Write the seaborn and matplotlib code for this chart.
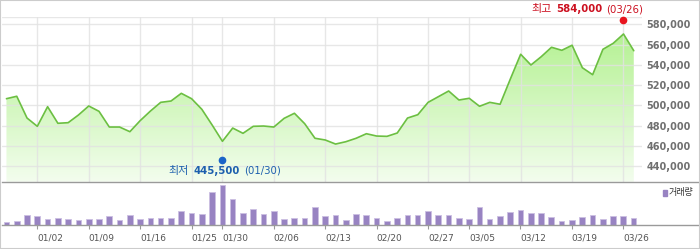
import numpy as np
import pandas as pd
import matplotlib
matplotlib.use("Agg")
import matplotlib.pyplot as plt
from matplotlib.colors import LinearSegmentedColormap
from matplotlib.offsetbox import TextArea, HPacker, AnnotationBbox
from matplotlib.patches import Rectangle
import seaborn as sns

# ---- data ----
price = [506500, 508900, 487400, 479200, 498600, 482200, 482800, 490400, 499300, 494000,
         478500, 478500, 473900, 484800, 494300, 502900, 504200, 511800, 506500, 496000,
         480500, 464400, 477500, 472300, 479200, 479500, 478500, 487100, 492100, 481800,
         467400, 465700, 461700, 464000, 467400, 471900, 469600, 469300, 472600, 487400,
         490700, 502900, 508500, 514100, 505200, 506900, 499000, 502900, 501000, 526000,
         550400, 539800, 548000, 557300, 554300, 559300, 537100, 530200, 555300, 561200,
         570400, 553900]
volume = [10, 12, 29, 27, 19, 21, 18, 15, 18, 19,
          27, 15, 29, 18, 20, 21, 21, 42, 36, 34,
          98, 120, 77, 37, 47, 34, 41, 18, 22, 20,
          54, 26, 31, 16, 32, 29, 22, 13, 21, 30,
          30, 43, 30, 30, 20, 19, 54, 19, 27, 40,
          45, 36, 36, 23, 11, 16, 23, 30, 18, 26,
          27, 21]
tick_pos = [3, 8, 13, 18, 21, 26, 31, 36, 41, 45, 50, 55, 60]
tick_labels = ["01/02", "01/09", "01/16", "01/25", "01/30", "02/06", "02/13",
               "02/20", "02/27", "03/05", "03/12", "03/19", "03/26"]
y_ticks = [440000, 460000, 480000, 500000, 520000, 540000, 560000, 580000]
high_idx, high_val, high_date = 60, 584000, "03/26"
low_idx, low_val, low_date = 21, 445500, "01/30"

idx = np.arange(len(price))
df = pd.DataFrame({"i": idx, "price": price, "volume": volume})

sns.set_theme(style="white")
plt.rcParams["font.family"] = ["DejaVu Sans", "Noto Sans CJK KR"]

W, H = 700, 249
fig = plt.figure(figsize=(W / 100, H / 100), dpi=100)

def fx(px):
    return px / W

def fy(py):
    return 1 - py / H

# price axes
ax = fig.add_axes([fx(2), fy(181.7), fx(640), (181.7 - 17.3) / H])
# volume axes
axv = fig.add_axes([fx(2), fy(225), fx(696), (225 - 181.7) / H])

ymin, ymax = 424500, 586900
xmin, xmax = -0.434, 61.8

# gradient fill under line
poly = ax.fill_between(idx, price, ymin, color="none", lw=0)
cmap = LinearSegmentedColormap.from_list("g", ["#f3fdee", "#aef089"])
grad = np.linspace(0, 1, 256).reshape(-1, 1)
im = ax.imshow(grad, extent=[xmin, xmax, ymin, ymax], origin="lower", aspect="auto",
               cmap=cmap, zorder=1)
im.set_clip_path(poly.get_paths()[0], transform=ax.transData)

sns.lineplot(data=df, x="i", y="price", ax=ax, color="#6cbf42", lw=1.2, zorder=4)

ax.set_xlim(xmin, xmax)
ax.set_ylim(ymin, ymax)
for t in tick_pos:
    ax.axvline(t, color="#e2e2e2", lw=1, zorder=2, alpha=0.8)
for v in y_ticks + [ymax]:
    ax.axhline(v, color="#e2e2e2", lw=1, zorder=2, alpha=0.8)
ax.set_xticks([])
ax.yaxis.tick_right()
ax.set_yticks(y_ticks)
ax.set_yticklabels([f"{v:,}" for v in y_ticks])
ax.tick_params(axis="y", length=0, pad=3, labelsize=7, labelcolor="#707070")
for lab in ax.get_yticklabels():
    lab.set_fontweight("bold")
ax.set_xlabel("")
ax.set_ylabel("")
for s in ax.spines.values():
    s.set_visible(False)

# high / low markers
ax.plot([high_idx], [high_val], "o", color="#e8141e", ms=4.5, zorder=6, clip_on=False)
ax.plot([low_idx], [low_val], "o", color="#1a64c8", ms=4.5, zorder=6, clip_on=False)

def label_box(prefix, value, date, color):
    kw = dict(color=color)
    parts = [TextArea(prefix, textprops=dict(fontsize=7.9, **kw)),
             TextArea(f"{value:,}", textprops=dict(fontweight="bold", fontsize=7.3, **kw)),
             TextArea(f"({date})", textprops=dict(fontsize=7.3, **kw))]
    return HPacker(children=parts, sep=3, pad=0, align="baseline")

ab_hi = AnnotationBbox(label_box("최고", high_val, high_date, "#cc1020"),
                       (high_idx, high_val), xybox=(14.2, 7.9), xycoords="data",
                       boxcoords="offset points", box_alignment=(1, 0.5),
                       frameon=False, annotation_clip=False, zorder=7)
ax.add_artist(ab_hi)
ab_lo = AnnotationBbox(label_box("최저", low_val, low_date, "#1d5fae"),
                       (low_idx, low_val), xybox=(1.7, -7.4), xycoords="data",
                       boxcoords="offset points", box_alignment=(0.5, 0.5),
                       frameon=False, annotation_clip=False, zorder=7)
ax.add_artist(ab_lo)

# volume bars
sns.barplot(data=df, x="i", y="volume", ax=axv, color="#9883c2", saturation=1,
            width=0.55, edgecolor="#cbbfe2", linewidth=0.6)
axv.set_xlim(-0.434, 67.27)
axv.set_ylim(0, 130)
axv.set_yticks([])
axv.set_xticks(tick_pos)
axv.set_xticklabels(tick_labels, ha="left")
axv.tick_params(axis="x", direction="out", length=3, width=0.8, color="#999999",
                pad=3.2, labelsize=6.5, labelcolor="#555555", bottom=True)
axv.set_xlabel("")
axv.set_ylabel("")
for name, s in axv.spines.items():
    if name in ("top", "bottom"):
        s.set_visible(True)
        s.set_color("#9a9a9a")
        s.set_linewidth(1)
    else:
        s.set_visible(False)

# legend
fig.patches.append(Rectangle((fx(663.3), fy(195.5)), fx(3.4), 5.8 / H,
                             transform=fig.transFigure, color="#9883c2"))
fig.text(fx(668.3), fy(192.5), "거래량", fontsize=6.5, color="#333333", va="center", ha="left")

# outer border
fig.patches.append(Rectangle((0, 0), 1, 1, transform=fig.transFigure, fill=False,
                             edgecolor="#cccccc", lw=1.5))

fig.savefig("out.png", dpi=100)
